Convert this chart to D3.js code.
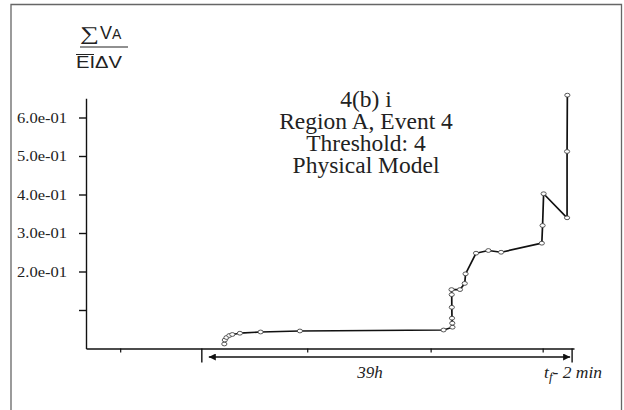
<!DOCTYPE html>
<html>
<head>
<meta charset="utf-8">
<script src="https://cdn.jsdelivr.net/npm/d3@7"></script>
<style>
  body { margin: 0; background: #fff; }
  svg { display: block; }
</style>
</head>
<body>
<svg id="chart" width="624" height="410"></svg>
<script>
// hours measured from the start of the 39h arrow
var hours = [2.37, 2.42, 2.60, 2.90, 3.21, 4.01, 6.19, 10.33, 25.46, 26.40, 26.38, 26.35, 26.33, 26.32, 26.30,
             27.19, 27.69, 27.78, 28.88, 30.18, 31.52, 35.81, 35.89, 36.00, 38.47, 38.47, 38.50];
var ratio = [0.0117, 0.022, 0.0286, 0.0338, 0.0364, 0.0397, 0.0429, 0.0455, 0.048, 0.0553, 0.0657, 0.0787, 0.107, 0.140, 0.153,
             0.153, 0.169, 0.194, 0.2475, 0.2545, 0.250, 0.2735, 0.3195, 0.402, 0.3395, 0.5117, 0.658];
var yTicks = [0.1, 0.2, 0.3, 0.4, 0.5, 0.6];
var yTickLabels = ["", "2.0e-01", "3.0e-01", "4.0e-01", "5.0e-01", "6.0e-01"];
var xShortTicks = [-8.6, 11.1, 24.1, 35.9];
var xLongTicks = [0, 39];
var titleLines = ["4(b) i", "Region A, Event 4", "Threshold: 4", "Physical Model"];

var svg = d3.select("#chart");

var x = d3.scaleLinear().domain([-12.2, 39.2]).range([86, 574]);
var y = d3.scaleLinear().domain([0, 0.65]).range([348.5, 98.25]);

// outer frame
svg.append("path")
  .attr("d", "M11,410 V4.5 H621.5 V410")
  .attr("fill", "none").attr("stroke", "#666").attr("stroke-width", 1.3);

// y axis
var yAxis = d3.axisLeft(y).tickValues(yTicks).tickSize(7).tickSizeOuter(0).tickPadding(12)
  .tickFormat(function(d, i) { return yTickLabels[i]; });
var gy = svg.append("g").attr("transform", "translate(86,0)").call(yAxis);
gy.select(".domain").attr("stroke", "#111").attr("stroke-width", 1.4);
gy.selectAll(".tick line").attr("stroke", "#111").attr("stroke-width", 1.4);
gy.selectAll(".tick text").attr("font-family", "Liberation Serif, serif").attr("font-size", 15).attr("fill", "#222")
  .filter(function(d, i) { return yTickLabels[i] !== ""; })
  .attr("textLength", 50).attr("lengthAdjust", "spacingAndGlyphs");

// x axis
var xAxis = d3.axisBottom(x).tickValues(xShortTicks).tickSize(4).tickSizeOuter(0).tickFormat("");
var gx = svg.append("g").attr("transform", "translate(0,348.5)").call(xAxis);
gx.select(".domain").attr("stroke", "#111").attr("stroke-width", 1.4);
gx.selectAll(".tick line").attr("stroke", "#111").attr("stroke-width", 1.2);

svg.selectAll(".longtick").data(xLongTicks).enter().append("line")
  .attr("x1", function(d) { return x(d); }).attr("x2", function(d) { return x(d); })
  .attr("y1", 348.5).attr("y2", 362.5)
  .attr("stroke", "#111").attr("stroke-width", 1.4);

// 39h arrow
var defs = svg.append("defs");
defs.append("marker").attr("id", "ahead").attr("viewBox", "0 0 10 10")
  .attr("refX", 10).attr("refY", 5).attr("markerWidth", 13).attr("markerHeight", 7)
  .attr("markerUnits", "userSpaceOnUse").attr("orient", "auto-start-reverse")
  .append("path").attr("d", "M0,0 L10,5 L0,10 z").attr("fill", "#111");
svg.append("line")
  .attr("x1", x(0) + 7).attr("x2", x(39) - 2)
  .attr("y1", 357).attr("y2", 357)
  .attr("stroke", "#111").attr("stroke-width", 1.4)
  .attr("marker-start", "url(#ahead)").attr("marker-end", "url(#ahead)");

svg.append("text").attr("x", x(17.7)).attr("y", 378).attr("text-anchor", "middle")
  .attr("font-family", "Liberation Serif, serif").attr("font-style", "italic").attr("font-size", 17)
  .attr("fill", "#222").text("39h");

var tf = svg.append("text").attr("x", 544).attr("y", 378)
  .attr("font-family", "Liberation Serif, serif").attr("font-style", "italic").attr("font-size", 17.5)
  .attr("fill", "#222");
tf.append("tspan").text("t");
tf.append("tspan").attr("dy", 3).attr("font-size", 13).text("f");
tf.append("tspan").attr("dy", -3).text("- 2 min");

// y label fraction
svg.append("text").attr("x", 80).attr("y", 39.5)
  .attr("font-family", "Liberation Serif, serif").attr("font-size", 19).attr("fill", "#222")
  .attr("textLength", 19).attr("lengthAdjust", "spacingAndGlyphs")
  .text("\u2211");
var num = svg.append("text").attr("x", 100).attr("y", 39)
  .attr("font-family", "Liberation Sans, Arial, sans-serif").attr("font-size", 18).attr("fill", "#222");
num.append("tspan").text("V");
num.append("tspan").attr("font-size", 14).text("A");
svg.append("line").attr("x1", 80).attr("x2", 128).attr("y1", 47).attr("y2", 47)
  .attr("stroke", "#222").attr("stroke-width", 1.2);
svg.append("text").attr("x", 76).attr("y", 68)
  .attr("font-family", "Liberation Sans, Arial, sans-serif").attr("font-size", 16).attr("fill", "#222")
  .attr("textLength", 46).attr("lengthAdjust", "spacingAndGlyphs")
  .text("EI\u0394V");
svg.append("line").attr("x1", 76).attr("x2", 94).attr("y1", 54.5).attr("y2", 54.5)
  .attr("stroke", "#222").attr("stroke-width", 1);

// title block
svg.append("g").selectAll("text").data(titleLines).enter().append("text")
  .attr("x", 366).attr("y", function(d, i) { return 107 + i * 22; })
  .attr("text-anchor", "middle")
  .attr("font-family", "Liberation Serif, serif").attr("font-size", 23.5).attr("fill", "#222")
  .text(function(d) { return d; });

// series
var pts = hours.map(function(h, i) { return [h, ratio[i]]; });
var line = d3.line().x(function(d) { return x(d[0]); }).y(function(d) { return y(d[1]); });
svg.append("path").datum(pts).attr("d", line)
  .attr("fill", "none").attr("stroke", "#111").attr("stroke-width", 1.7).attr("stroke-linejoin", "round");

svg.selectAll(".pt").data(pts).enter().append("ellipse")
  .attr("cx", function(d) { return x(d[0]); }).attr("cy", function(d) { return y(d[1]); })
  .attr("rx", 2.6).attr("ry", 1.9)
  .attr("fill", "#fff").attr("stroke", "#444").attr("stroke-width", 0.9);
</script>
</body>
</html>
